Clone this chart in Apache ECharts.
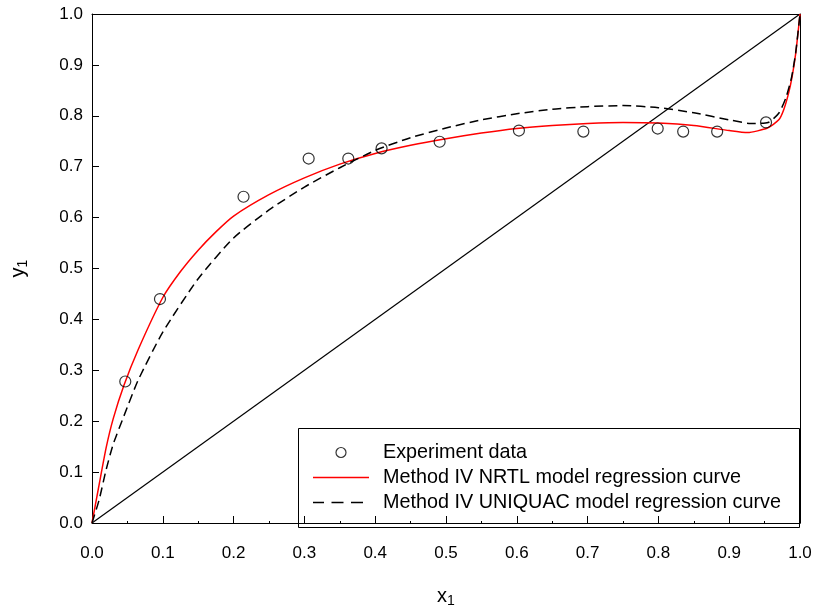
<!DOCTYPE html>
<html>
<head>
<meta charset="utf-8">
<script src="https://cdn.jsdelivr.net/npm/echarts@6/dist/echarts.min.js"></script>
<style>
html,body{margin:0;padding:0;background:#fff;}
#c{width:817px;height:613px;}
</style>
</head>
<body>
<div id="c"></div>
<script>
// Experimental data (x1, y1)
var expX = [0.047, 0.096, 0.214, 0.306, 0.362, 0.409, 0.491, 0.603, 0.694, 0.799, 0.835, 0.883, 0.952];
var expY = [0.278, 0.440, 0.641, 0.716, 0.716, 0.736, 0.749, 0.771, 0.769, 0.775, 0.769, 0.769, 0.787];

// Method IV NRTL regression curve
var nrtlX = [0, 0.01, 0.02, 0.03, 0.045, 0.065, 0.1, 0.125, 0.15, 0.175, 0.2, 0.25, 0.3, 0.35, 0.4, 0.45, 0.5, 0.55, 0.6, 0.65, 0.7, 0.75, 0.8, 0.85, 0.9, 0.926, 0.954, 0.97, 0.977, 0.984, 0.989, 0.994, 1.0];
var nrtlY = [0, 0.075, 0.148, 0.205, 0.27, 0.34, 0.443, 0.494, 0.536, 0.572, 0.603, 0.645, 0.678, 0.705, 0.726, 0.742, 0.755, 0.766, 0.775, 0.781, 0.785, 0.787, 0.786, 0.781, 0.771, 0.767, 0.776, 0.792, 0.812, 0.845, 0.878, 0.923, 1.0];

// Method IV UNIQUAC regression curve
var uniqX = [0, 0.01, 0.02, 0.03, 0.045, 0.065, 0.1, 0.15, 0.2, 0.25, 0.3, 0.35, 0.4, 0.45, 0.5, 0.55, 0.6, 0.65, 0.7, 0.75, 0.8, 0.85, 0.9, 0.93, 0.955, 0.97, 0.98, 0.988, 0.994, 1.0];
var uniqY = [0, 0.045, 0.105, 0.155, 0.21, 0.28, 0.375, 0.48, 0.56, 0.615, 0.66, 0.698, 0.732, 0.757, 0.776, 0.792, 0.804, 0.813, 0.818, 0.82, 0.816, 0.806, 0.792, 0.785, 0.787, 0.805, 0.835, 0.875, 0.925, 1.0];

// Diagonal y = x
var diagX = [0, 1];
var diagY = [0, 1];

var legendNames = ['Experiment data', 'Method IV NRTL model regression curve', 'Method IV UNIQUAC model regression curve'];

function pairs(xs, ys) { return xs.map(function (v, i) { return [v, ys[i]]; }); }

var FONT = 'Liberation Sans, Arial, Helvetica, sans-serif';
var chart = echarts.init(document.getElementById('c'), null, {renderer: 'canvas'});

var solidIcon = 'path://M0,0H56V1.5H0Z';
var dashIcon = 'path://M0,0H11V1.5H0Z M18.5,0H30.5V1.5H18.5Z M38,0H50V1.5H38Z M55.9,0H56V0.01H55.9Z';

var option = {
  animation: false,
  backgroundColor: '#fff',
  textStyle: {fontFamily: FONT},
  grid: {left: 92, right: 17, top: 14, bottom: 90, containLabel: false},
  legend: {
    orient: 'vertical',
    left: 313,
    top: 440,
    padding: 0,
    itemWidth: 56,
    itemHeight: 10,
    itemGap: 0,
    data: [
      {name: legendNames[0], itemStyle: {borderWidth: 1.2, borderColor: '#000', color: 'rgba(0,0,0,0)'}},
      {name: legendNames[1], icon: solidIcon, itemStyle: {borderWidth: 0, color: '#ff0000'}},
      {name: legendNames[2], icon: dashIcon, itemStyle: {borderWidth: 0, color: '#000'}}
    ],
    textStyle: {fontFamily: FONT, fontSize: 19.8, color: '#000', lineHeight: 25, padding: [0, 0, 0, 9]}
  },
  graphic: [{
    type: 'rect',
    shape: {x: 298.5, y: 428.5, width: 501, height: 99},
    style: {fill: 'none', stroke: '#000', lineWidth: 1},
    z: 10
  }],
  xAxis: [{
    type: 'value',
    min: 0, max: 1, interval: 0.1,
    position: 'bottom',
    offset: 5,
    name: 'x{s|1}',
    nameLocation: 'middle',
    nameGap: 56,
    nameTextStyle: {
      fontFamily: FONT, fontSize: 20, color: '#000',
      rich: {s: {fontFamily: FONT, fontSize: 14, color: '#000', padding: [10, 0, 0, 0]}}
    },
    axisLine: {show: true, lineStyle: {color: '#000', width: 1}},
    axisTick: {show: true, inside: true, length: 7, lineStyle: {color: '#000'}},
    minorTick: {show: true, splitNumber: 2, length: 2, lineStyle: {color: '#000'}},
    axisLabel: {
      fontFamily: FONT, fontSize: 17, color: '#000', margin: 17,
      formatter: function (v) { return v.toFixed(1); }
    },
    splitLine: {show: false}
  }, {
    type: 'value',
    min: 0, max: 1,
    position: 'top',
    axisLine: {show: true, onZero: false, lineStyle: {color: '#000', width: 1}},
    axisTick: {show: false},
    axisLabel: {show: false},
    splitLine: {show: false}
  }],
  yAxis: [{
    type: 'value',
    min: 0, max: 1, interval: 0.1,
    position: 'left',
    name: 'y{s|1}',
    nameLocation: 'middle',
    nameGap: 62,
    nameTextStyle: {
      fontFamily: FONT, fontSize: 20, color: '#000',
      rich: {s: {fontFamily: FONT, fontSize: 14, color: '#000', padding: [10, 0, 0, 0]}}
    },
    axisLine: {show: true, onZero: false, lineStyle: {color: '#000', width: 1}},
    axisTick: {show: true, inside: true, length: 7, lineStyle: {color: '#000'}},
    axisLabel: {
      fontFamily: FONT, fontSize: 17, color: '#000', margin: 9,
      formatter: function (v) { return v.toFixed(1); }
    },
    splitLine: {show: false}
  }, {
    type: 'value',
    min: 0, max: 1,
    position: 'right',
    axisLine: {show: true, onZero: false, lineStyle: {color: '#000', width: 1}},
    axisTick: {show: false},
    axisLabel: {show: false},
    splitLine: {show: false}
  }],
  series: [{
    name: 'diagonal',
    type: 'line',
    data: pairs(diagX, diagY),
    symbol: 'none',
    lineStyle: {color: '#000', width: 1.2},
    z: 2
  }, {
    name: legendNames[1],
    type: 'line',
    data: pairs(nrtlX, nrtlY),
    symbol: 'none',
    smooth: 0.2,
    color: '#ff0000',
    lineStyle: {color: '#ff0000', width: 1.5},
    z: 3
  }, {
    name: legendNames[2],
    type: 'line',
    data: pairs(uniqX, uniqY),
    symbol: 'none',
    smooth: 0.2,
    color: '#000',
    lineStyle: {color: '#000', width: 1.5, type: [9, 5]},
    z: 3
  }, {
    name: legendNames[0],
    type: 'scatter',
    data: pairs(expX, expY),
    symbol: 'circle',
    symbolSize: 11,
    itemStyle: {color: 'rgba(0,0,0,0)', borderColor: '#000', borderWidth: 1.2},
    z: 4
  }]
};
chart.setOption(option);
</script>
</body>
</html>
